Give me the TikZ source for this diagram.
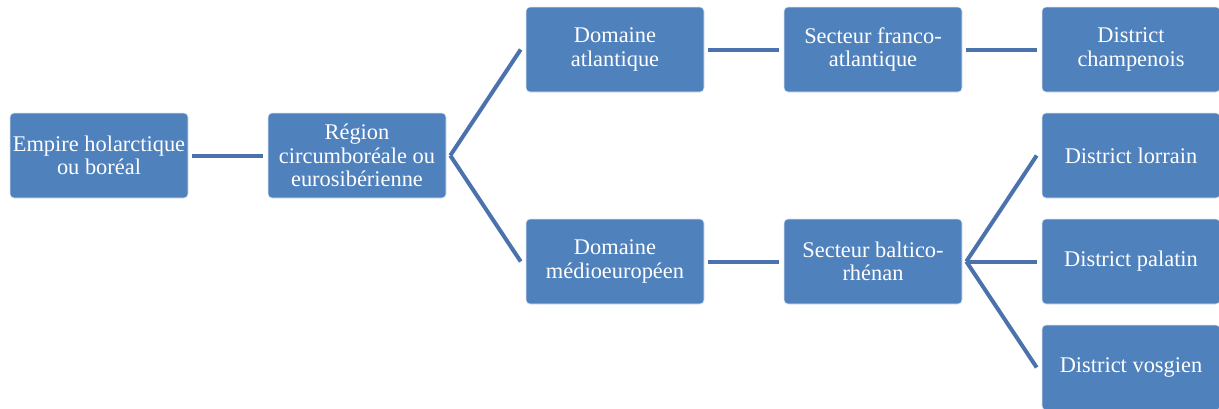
\documentclass[tikz,border=0pt]{standalone}
\usepackage{fontspec}
\setmainfont{Liberation Serif}
\definecolor{boxblue}{HTML}{4F81BD}
\definecolor{linkblue}{HTML}{4A72AC}
\begin{document}
\begin{tikzpicture}[x=1pt,y=-1pt,
  box/.style={fill=boxblue, draw=white!80!boxblue, line width=0.6pt, rounded corners=4pt,
    minimum width=178pt, minimum height=85pt, inner sep=0pt, align=center,
    text=white, font=\fontsize{22.4}{23.5}\selectfont},
  link/.style={linkblue, line width=4pt}]
				\useasboundingbox (0,0) rectangle (1219,408);
				% niveaux de gauche a droite
				\node[box] (empire) at (99,155.5) {Empire holarctique\\ou boréal};
				\node[box] (region) at (357,155.5) {Région\\circumboréale ou\\eurosibérienne};
				\node[box] (atl) at (615,49.5) {Domaine\\atlantique};
				\node[box] (medio) at (615,261.5) {Domaine\\médioeuropéen};
				\node[box] (franco) at (873,49.5) {Secteur franco-\\atlantique};
				\node[box] (baltico) at (873,261.5) {Secteur baltico-\\rhénan};
				\node[box] (champ) at (1131,49.5) {District\\champenois};
				\node[box] (lorrain) at (1131,155.5) {District lorrain};
				\node[box] (palatin) at (1131,261.5) {District palatin};
				\node[box] (vosgien) at (1131,367.5) {District vosgien};

				% liaisons
				\draw[link] ([xshift=4pt]empire.east)--([xshift=-5pt]region.west);
				\draw[link] ([xshift=4pt]region.east)--([xshift=-5pt]atl.west);
				\draw[link] ([xshift=4pt]region.east)--([xshift=-5pt]medio.west);
				\draw[link] ([xshift=4pt]atl.east)--([xshift=-5pt]franco.west);
				\draw[link] ([xshift=4pt]medio.east)--([xshift=-5pt]baltico.west);
				\draw[link] ([xshift=4pt]franco.east)--([xshift=-5pt]champ.west);
				\draw[link] ([xshift=4pt]baltico.east)--([xshift=-5pt]lorrain.west);
				\draw[link] ([xshift=4pt]baltico.east)--([xshift=-5pt]palatin.west);
				\draw[link] ([xshift=4pt]baltico.east)--([xshift=-5pt]vosgien.west);
				\end{tikzpicture}
\end{document}
